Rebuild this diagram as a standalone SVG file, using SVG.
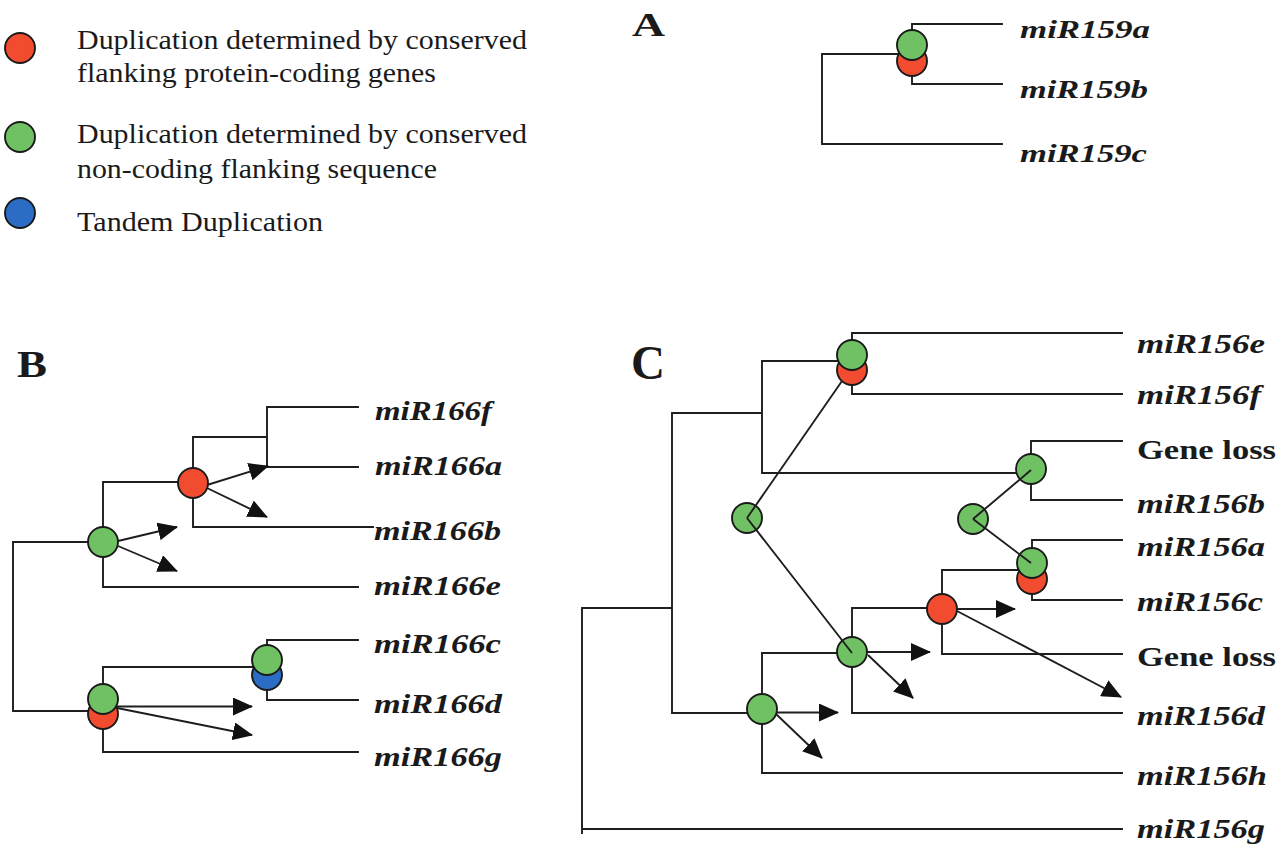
<svg xmlns="http://www.w3.org/2000/svg" width="1280" height="855" viewBox="0 0 1280 855">
<style>
.bg{fill:#ffffff}
.edge{fill:none;stroke:#1e1e1e;stroke-width:1.9;stroke-linecap:square}
.link{fill:none;stroke:#1e1e1e;stroke-width:1.9}
.arr{fill:none;stroke:#1e1e1e;stroke-width:1.9;marker-end:url(#ah)}
.dot{stroke:#1a1a1a;stroke-width:1.9}
.red{fill:#f24c30}
.green{fill:#70c163}
.blue{fill:#2b6cc4}
.leg{font-family:"Liberation Serif","Times New Roman",serif;font-size:28px;fill:#1a1a1a}
.panel{font-family:"Liberation Serif","Times New Roman",serif;font-weight:bold;fill:#1a1a1a}
.mir{font-family:"Liberation Serif","Times New Roman",serif;font-weight:bold;font-style:italic;fill:#1a1a1a}
.loss{font-family:"Liberation Serif","Times New Roman",serif;font-weight:bold;fill:#1a1a1a;font-size:28px}
.a{font-size:25px}
.b{font-size:27px}
.c{font-size:28px}
</style>
<defs>
<marker id="ah" markerUnits="userSpaceOnUse" markerWidth="20" markerHeight="18" viewBox="0 0 20 18" refX="19" refY="9" orient="auto">
<path d="M0,0 L20,9 L0,18 Z" fill="#111"/>
</marker>
</defs>
<rect class="bg" x="0" y="0" width="1280" height="855"/>

<g id="legend">
<g id="legend-red"><circle class="dot red" cx="20" cy="48" r="15"/><text class="leg" x="77" y="49" textLength="450" lengthAdjust="spacingAndGlyphs">Duplication determined by conserved</text><text class="leg" x="77" y="82" textLength="359" lengthAdjust="spacingAndGlyphs">flanking protein-coding genes</text></g>
<g id="legend-green"><circle class="dot green" cx="20" cy="137" r="15"/><text class="leg" x="77" y="143" textLength="450" lengthAdjust="spacingAndGlyphs">Duplication determined by conserved</text><text class="leg" x="77" y="178" textLength="360" lengthAdjust="spacingAndGlyphs">non-coding flanking sequence</text></g>
<g id="legend-blue"><circle class="dot blue" cx="20" cy="213" r="15"/><text class="leg" x="77" y="231" textLength="246" lengthAdjust="spacingAndGlyphs">Tandem Duplication</text></g>
</g>

<g id="panel-labels">
<text id="label-A" class="panel" x="632" y="36" font-size="34" textLength="33" lengthAdjust="spacingAndGlyphs">A</text>
<text id="label-B" class="panel" x="17" y="377" font-size="38" textLength="30" lengthAdjust="spacingAndGlyphs">B</text>
<text id="label-C" class="panel" x="631" y="379" font-size="48" textLength="34" lengthAdjust="spacingAndGlyphs">C</text>
</g>

<g id="connectors">
<path class="edge" d="M822,54 V144 H1002 M822,54 H912 M912,24 V84 M912,24 H1002 M912,84 H1002"/>
<path class="edge" d="M13,542 V711 M13,542 H103 M13,711 H103 M103,482 V587 M103,482 H193 M103,587 H358 M193,437 V527 M193,437 H267 M193,527 H373 M267,407 V467 M267,407 H358 M267,467 H358 M103,667 V752 M103,667 H267 M103,752 H358 M267,640 V700 M267,640 H358 M267,700 H358"/>
<path class="edge" d="M582,608 V833 M582,608 H672 M582,829 H1122 M672,413 V713 M672,413 H762 M672,713 H762 M762,361 V473 M762,361 H852 M762,473 H1031 M852,333 V394 M852,333 H1122 M852,394 H1122 M1031,441 V500 M1031,441 H1122 M1031,500 H1122 M762,653 V773 M762,653 H852 M762,773 H1122 M852,608 V713 M852,608 H942 M852,713 H1122 M942,570 V654 M942,570 H1032 M942,654 H1122 M1032,540 V600 M1032,540 H1122 M1032,600 H1122"/>
</g>

<g id="nodes">
<g id="A-dup"><circle class="dot red" cx="912" cy="61" r="15"/><circle class="dot green" cx="912" cy="45" r="15"/></g>
<g id="B-root-dup"><circle class="dot green" cx="103" cy="542" r="15"/></g>
<g id="B-fab-dup"><circle class="dot red" cx="193" cy="483" r="15"/></g>
<g id="B-cdg-dup"><circle class="dot red" cx="103" cy="714" r="15"/><circle class="dot green" cx="103" cy="699" r="15"/></g>
<g id="B-cd-dup"><circle class="dot blue" cx="267" cy="675" r="15"/><circle class="dot green" cx="267" cy="660" r="15"/></g>
<g id="C-ef-dup"><circle class="dot red" cx="852" cy="370" r="15"/><circle class="dot green" cx="852" cy="355" r="15"/></g>
<g id="C-lossb-dup"><circle class="dot green" cx="1031" cy="469" r="15"/></g>
<g id="C-free1"><circle class="dot green" cx="747" cy="518" r="15"/></g>
<g id="C-free2"><circle class="dot green" cx="973" cy="519" r="15"/></g>
<g id="C-ac-dup"><circle class="dot red" cx="1032" cy="579" r="15"/><circle class="dot green" cx="1032" cy="563" r="15"/></g>
<g id="C-red-dup"><circle class="dot red" cx="942" cy="609" r="15"/></g>
<g id="C-d-dup"><circle class="dot green" cx="852" cy="652" r="15"/></g>
<g id="C-h-dup"><circle class="dot green" cx="762" cy="709" r="15"/></g>
</g>

<g id="event-links">
<path class="link" d="M747,518 L842,381 M747,518 L852,653 M973,519 L1031,470 M973,519 L1031,563"/>
<path class="arr" d="M118,541 L177,527"/>
<path class="arr" d="M118,546 L177,571"/>
<path class="arr" d="M207,485 L268,466"/>
<path class="arr" d="M207,488 L267,517"/>
<path class="arr" d="M117,706.5 L252,706.5"/>
<path class="arr" d="M117,708 L252,735"/>
<path class="arr" d="M777,712.5 L838,712.5"/>
<path class="arr" d="M776,714 L822,758"/>
<path class="arr" d="M867,652 L930,652"/>
<path class="arr" d="M868,655 L913,698"/>
<path class="arr" d="M957,609 L1015,609"/>
<path class="arr" d="M957,611 L1121,697"/>
</g>

<g id="leaves">
<g id="miR159a"><text class="mir a" x="1020" y="38" textLength="130" lengthAdjust="spacingAndGlyphs">miR159a</text></g>
<g id="miR159b"><text class="mir a" x="1020" y="98" textLength="128" lengthAdjust="spacingAndGlyphs">miR159b</text></g>
<g id="miR159c"><text class="mir a" x="1020" y="162" textLength="127" lengthAdjust="spacingAndGlyphs">miR159c</text></g>
<g id="miR166f"><text class="mir b" x="375" y="420" textLength="117" lengthAdjust="spacingAndGlyphs">miR166f</text></g>
<g id="miR166a"><text class="mir b" x="375" y="475" textLength="127" lengthAdjust="spacingAndGlyphs">miR166a</text></g>
<g id="miR166b"><text class="mir b" x="374" y="540" textLength="127" lengthAdjust="spacingAndGlyphs">miR166b</text></g>
<g id="miR166e"><text class="mir b" x="374" y="595" textLength="127" lengthAdjust="spacingAndGlyphs">miR166e</text></g>
<g id="miR166c"><text class="mir b" x="374" y="653" textLength="127" lengthAdjust="spacingAndGlyphs">miR166c</text></g>
<g id="miR166d"><text class="mir b" x="374" y="713" textLength="128" lengthAdjust="spacingAndGlyphs">miR166d</text></g>
<g id="miR166g"><text class="mir b" x="374" y="766" textLength="128" lengthAdjust="spacingAndGlyphs">miR166g</text></g>
<g id="miR156e"><text class="mir c" x="1137" y="353" textLength="128" lengthAdjust="spacingAndGlyphs">miR156e</text></g>
<g id="miR156f"><text class="mir c" x="1137" y="404" textLength="124" lengthAdjust="spacingAndGlyphs">miR156f</text></g>
<g id="gene-loss-1"><text class="loss" x="1137" y="459" textLength="139" lengthAdjust="spacingAndGlyphs">Gene loss</text></g>
<g id="miR156b"><text class="mir c" x="1137" y="513" textLength="128" lengthAdjust="spacingAndGlyphs">miR156b</text></g>
<g id="miR156a"><text class="mir c" x="1137" y="556" textLength="128" lengthAdjust="spacingAndGlyphs">miR156a</text></g>
<g id="miR156c"><text class="mir c" x="1137" y="611" textLength="126" lengthAdjust="spacingAndGlyphs">miR156c</text></g>
<g id="gene-loss-2"><text class="loss" x="1137" y="666" textLength="139" lengthAdjust="spacingAndGlyphs">Gene loss</text></g>
<g id="miR156d"><text class="mir c" x="1137" y="725" textLength="128" lengthAdjust="spacingAndGlyphs">miR156d</text></g>
<g id="miR156h"><text class="mir c" x="1137" y="785" textLength="130" lengthAdjust="spacingAndGlyphs">miR156h</text></g>
<g id="miR156g"><text class="mir c" x="1137" y="838" textLength="128" lengthAdjust="spacingAndGlyphs">miR156g</text></g>
</g>
</svg>
